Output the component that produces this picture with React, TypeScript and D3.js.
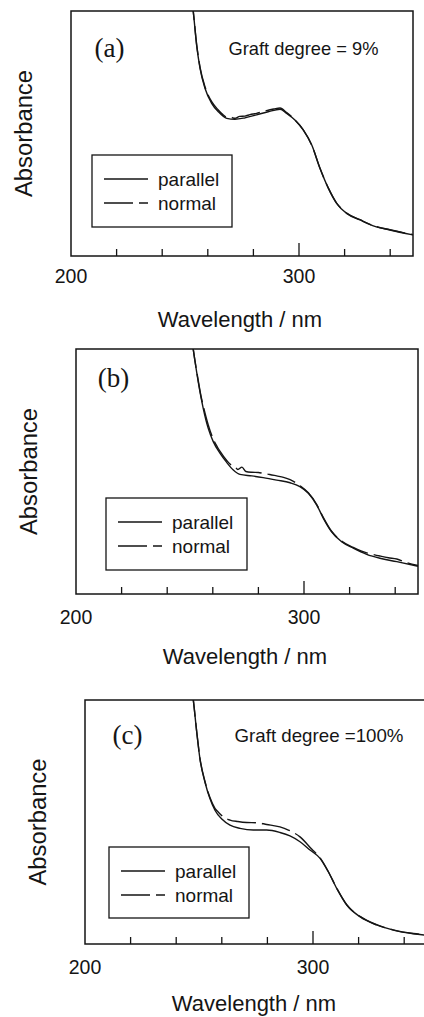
import React from 'react';
import * as d3 from 'd3';

type Pt = [number, number];

// ---------- data ----------
const wavelengthTicks = [220, 240, 260, 280, 300, 320, 340];
const majorTicks = [300];
const tickLabels = [200, 300];
const seriesNames = ['parallel', 'normal'];
const panelNames = ['(a)', '(b)', '(c)'];
const graftLabels = ['Graft degree = 9%', '', 'Graft degree =100%'];
const xTitle = 'Wavelength';
const xUnit = 'nm';
const yTitle = 'Absorbance';

// panel (a) graft degree 9 %
const aParallel: Pt[] = [
  [252.5, 1.08], [253.6, 1.0], [255.1, 0.861], [256.6, 0.766], [258.8, 0.684], [261.7, 0.623],
  [264.6, 0.589], [268.3, 0.562], [271.9, 0.558], [276.3, 0.564], [281.4, 0.576], [286.5, 0.589],
  [291.7, 0.599], [294.6, 0.582], [298.2, 0.555], [301.9, 0.514], [305.6, 0.453], [309.2, 0.358],
  [312.9, 0.276], [316.5, 0.215], [320.9, 0.174], [326.8, 0.147], [332.6, 0.123], [339.9, 0.106],
  [350, 0.086],
];
const aNormal: Pt[] = [
  [252.5, 1.08], [253.6, 1.0], [255.1, 0.864], [256.6, 0.77], [258.8, 0.69], [261.7, 0.63],
  [264.6, 0.596], [266.5, 0.578], [268.3, 0.566], [270.0, 0.566], [271.9, 0.562], [274.0, 0.570],
  [276.3, 0.571], [278.5, 0.577], [281.4, 0.582], [284.0, 0.590], [286.5, 0.595], [289.0, 0.600],
  [291.7, 0.604], [294.6, 0.585], [298.2, 0.556], [301.9, 0.515], [305.6, 0.452], [309.2, 0.358],
  [312.9, 0.277], [316.5, 0.216], [320.9, 0.175], [326.8, 0.148], [332.6, 0.124], [339.9, 0.107],
  [350, 0.087],
];

// panel (b)
const bParallel: Pt[] = [
  [250.8, 1.04], [251.4, 1.0], [253.6, 0.867], [255.8, 0.758], [258.0, 0.676], [260.2, 0.622],
  [263.2, 0.574], [266.1, 0.537], [269.0, 0.506], [271.9, 0.488], [277.1, 0.482], [282.1, 0.475],
  [288.0, 0.465], [293.9, 0.454], [298.2, 0.438], [301.9, 0.411], [305.6, 0.363], [308.5, 0.309],
  [312.1, 0.254], [316.5, 0.213], [321.6, 0.187], [327.5, 0.162], [333.3, 0.146], [340.7, 0.132],
  [350, 0.113],
];
const bNormal: Pt[] = [
  [250.8, 1.04], [251.4, 1.0], [253.6, 0.872], [255.0, 0.80], [255.8, 0.768], [258.0, 0.69],
  [260.2, 0.632], [262.0, 0.60], [263.2, 0.582], [266.1, 0.545], [268.0, 0.527], [269.5, 0.522],
  [271.0, 0.508], [272.8, 0.518], [274.5, 0.500], [277.1, 0.497], [280.0, 0.496], [282.1, 0.492],
  [285.0, 0.488], [288.0, 0.482], [291.0, 0.476], [293.9, 0.467], [298.2, 0.442], [301.9, 0.413],
  [305.6, 0.365], [308.5, 0.312], [312.1, 0.256], [316.5, 0.216], [321.6, 0.190], [325.0, 0.176],
  [327.5, 0.168], [330.0, 0.162], [333.3, 0.155], [337.0, 0.148], [340.7, 0.143], [345.0, 0.128],
  [350, 0.116],
];

// panel (c) graft degree 100 %
const cParallel: Pt[] = [
  [246.8, 1.05], [247.5, 1.0], [249.0, 0.869], [250.4, 0.760], [252.6, 0.664], [254.8, 0.596],
  [257.0, 0.548], [260.0, 0.512], [263.6, 0.487], [268.0, 0.474], [273.8, 0.467], [279.7, 0.467],
  [285.5, 0.457], [289.9, 0.443], [294.3, 0.419], [298.7, 0.385], [303.1, 0.351], [306.7, 0.296],
  [310.4, 0.228], [314.8, 0.160], [320.6, 0.112], [327.9, 0.078], [335.2, 0.057], [344.0, 0.042],
  [350, 0.036],
];
const cNormal: Pt[] = [
  [246.8, 1.05], [247.5, 1.0], [249.0, 0.870], [250.4, 0.762], [252.6, 0.667], [254.8, 0.600],
  [257.0, 0.556], [258.5, 0.540], [260.5, 0.522], [263.6, 0.508], [267.0, 0.502], [270.9, 0.498],
  [275.3, 0.497], [279.7, 0.490], [285.5, 0.480], [289.2, 0.467], [294.3, 0.439], [299.4, 0.389],
  [303.1, 0.353], [306.7, 0.297], [310.4, 0.229], [314.8, 0.161], [320.6, 0.113], [327.9, 0.079],
  [335.2, 0.058], [344.0, 0.043], [350, 0.037],
];

const panelSeries: Pt[][][] = [
  [aParallel, aNormal],
  [bParallel, bNormal],
  [cParallel, cNormal],
];

// ---------- layout ----------
const layouts = [
  { left: 71, top: 11, right: 413, bottom: 256, label: { x: 109.5, y: 57 }, graft: { x: 228.5, y: 54.5, len: 150 }, legend: { x: 92, y: 155, w: 140, h: 72 }, tickDy: 27, titleDy: 71 },
  { left: 76, top: 349, right: 418, bottom: 594, label: { x: 113.5, y: 387 }, graft: null, legend: { x: 106, y: 498, w: 141, h: 72 }, tickDy: 30, titleDy: 70 },
  { left: 85, top: 700, right: 427, bottom: 944, label: { x: 127.5, y: 744 }, graft: { x: 234.5, y: 742, len: 169 }, legend: { x: 109, y: 847, w: 140, h: 71 }, tickDy: 30, titleDy: 67 },
];

const SANS = '"Liberation Sans", Arial, Helvetica, sans-serif';
const SERIF = '"Liberation Serif", "Times New Roman", serif';
const INK = '#151515';
const DASH = ['none', '29,6'];

function Panel({ idx }: { idx: number }) {
  const L = layouts[idx];
  const x = d3.scaleLinear().domain([200, 350]).range([L.left, L.right]);
  const y = d3.scaleLinear().domain([0, 1]).range([L.bottom, L.top]);
  const line = d3
    .line<Pt>()
    .x((d) => x(d[0]))
    .y((d) => y(d[1]))
    .curve(d3.curveMonotoneX);
  const clipId = `clip-${idx}`;
  const cy = (L.top + L.bottom) / 2;
  return (
    <g>
      <defs>
        <clipPath id={clipId}>
          <rect x={L.left} y={L.top} width={L.right - L.left} height={L.bottom - L.top} />
        </clipPath>
      </defs>
      {/* curves */}
      <g clipPath={`url(#${clipId})`}>
        {panelSeries[idx].map((s, i) => (
          <path
            key={i}
            d={line(s) || ''}
            fill="none"
            stroke={INK}
            strokeWidth={1.4}
            strokeDasharray={DASH[i]}
            strokeLinejoin="round"
          />
        ))}
      </g>
      {/* frame */}
      <rect
        x={L.left}
        y={L.top}
        width={L.right - L.left}
        height={L.bottom - L.top}
        fill="none"
        stroke={INK}
        strokeWidth={1.5}
      />
      {/* ticks */}
      {wavelengthTicks.map((t) => (
        <line
          key={t}
          x1={x(t)}
          x2={x(t)}
          y1={L.bottom}
          y2={L.bottom - (majorTicks.includes(t) ? 13 : 7)}
          stroke={INK}
          strokeWidth={1.3}
        />
      ))}
      {tickLabels.map((t) => (
        <text
          key={t}
          x={x(t)}
          y={L.bottom + L.tickDy}
          textAnchor="middle"
          fontFamily={SANS}
          fontSize={19.5}
          fill={INK}
        >
          {t}
        </text>
      ))}
      {/* axis titles */}
      <text
        x={L.left + 169}
        y={L.bottom + L.titleDy}
        textAnchor="middle"
        fontFamily={SANS}
        fontSize={22}
        fill={INK}
      >
        {xTitle} / {xUnit}
      </text>
      <text
        transform={`translate(${L.left - 39},${cy}) rotate(-90)`}
        textAnchor="middle"
        fontFamily={SANS}
        fontSize={23.5}
        textLength={127}
        lengthAdjust="spacingAndGlyphs"
        fill={INK}
      >
        {yTitle}
      </text>
      {/* panel label */}
      <text
        x={L.label.x}
        y={L.label.y}
        textAnchor="middle"
        fontFamily={SERIF}
        fontSize={27}
        fill={INK}
      >
        {panelNames[idx]}
      </text>
      {L.graft && graftLabels[idx] && (
        <text
          x={L.graft.x}
          y={L.graft.y}
          fontFamily={SANS}
          fontSize={19}
          textLength={L.graft.len}
          lengthAdjust="spacingAndGlyphs"
          fill={INK}
        >
          {graftLabels[idx]}
        </text>
      )}
      {/* legend */}
      <g>
        <rect
          x={L.legend.x}
          y={L.legend.y}
          width={L.legend.w}
          height={L.legend.h}
          fill="#fff"
          stroke={INK}
          strokeWidth={1.3}
        />
        {seriesNames.map((n, i) => {
          const ly = L.legend.y + 24 + i * 24;
          return (
            <g key={n}>
              <line
                x1={L.legend.x + 12}
                x2={L.legend.x + 56}
                y1={ly}
                y2={ly}
                stroke={INK}
                strokeWidth={1.4}
                strokeDasharray={DASH[i]}
              />
              <text
                x={L.legend.x + 66}
                y={ly + 6.5}
                fontFamily={SANS}
                fontSize={19}
                fill={INK}
              >
                {n}
              </text>
            </g>
          );
        })}
      </g>
    </g>
  );
}

export default function App() {
  return (
    <svg
      width={424}
      height={1017}
      viewBox="0 0 424 1017"
      style={{ position: 'absolute', left: 0, top: 0, background: '#fff' }}
    >
      <rect x={0} y={0} width={424} height={1017} fill="#fff" />
      {layouts.map((_, i) => (
        <Panel key={i} idx={i} />
      ))}
    </svg>
  );
}
